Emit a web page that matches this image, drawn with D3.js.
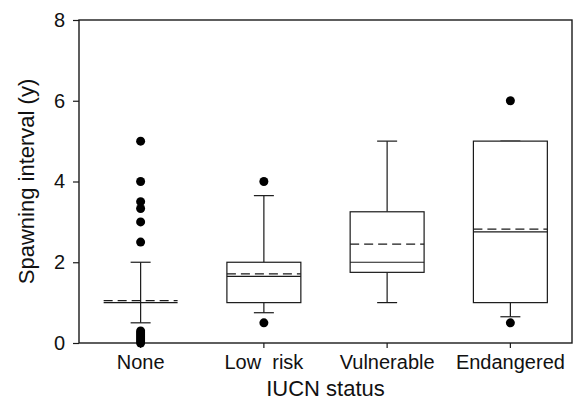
<!DOCTYPE html>
<html>
<head>
<meta charset="utf-8">
<script src="https://cdn.jsdelivr.net/npm/d3@7"></script>
<style>
  html, body { margin: 0; padding: 0; background: #fff; }
  text { font-family: "Liberation Sans", Arial, Helvetica, sans-serif; fill: #111; }
</style>
</head>
<body>
<svg id="chart" width="577" height="408"></svg>
<script>
// IUCN status groups
const categories = ["None", "Low  risk", "Vulnerable", "Endangered"];
// Box statistics for spawning interval (years)
const q1 = [1, 1, 1.75, 1];
const median = [1, 1.65, 2, 2.75];
const q3 = [1, 2, 3.25, 5];
const mean = [1.05, 1.71, 2.45, 2.82];
const whiskerLow = [0.5, 0.75, 1, 0.65];
const whiskerHigh = [2, 3.65, 5, 5];
const outliers = [
  [5, 4, 3.5, 3.33, 3, 2.5, 0.3, 0.25, 0.2, 0.15, 0.1, 0.05, 0],
  [4, 0.5],
  [],
  [6, 0.5]
];
const yTicks = [0, 2, 4, 6, 8];

const margin = { top: 20, right: 5, bottom: 65, left: 79 };
const W = 577, H = 408;
const svg = d3.select("#chart");

const x = d3.scaleBand().domain(categories).range([margin.left, W - margin.right]);
const y = d3.scaleLinear().domain([0, 8]).range([H - margin.bottom, margin.top]);

const stroke = "#1a1a1a";
const boxW = x.bandwidth() * 0.6;
const capW = 20;

// Axes
const yAxis = svg.append("g")
  .attr("transform", `translate(${margin.left},0)`)
  .call(d3.axisLeft(y).tickValues(yTicks).tickSize(6).tickPadding(8).tickFormat(d3.format("d")));
const xAxis = svg.append("g")
  .attr("transform", `translate(0,${H - margin.bottom})`)
  .call(d3.axisBottom(x).tickSize(5).tickPadding(7));
[yAxis, xAxis].forEach(g => {
  g.select(".domain").remove();
  g.selectAll("line").attr("stroke", stroke).attr("stroke-width", 1.2);
  g.selectAll("text").style("font-size", "20px").style("white-space", "pre")
    .attr("fill", "#111").style("font-family", '"Liberation Sans", Arial, sans-serif');
});

// Plot frame
svg.append("rect")
  .attr("x", margin.left).attr("y", margin.top)
  .attr("width", W - margin.left - margin.right)
  .attr("height", H - margin.top - margin.bottom)
  .attr("fill", "none").attr("stroke", stroke).attr("stroke-width", 1.4);

// Boxes
const groups = svg.append("g").selectAll("g")
  .data(categories.map((c, i) => ({ c, i })))
  .join("g");

groups.each(function ({ c, i }) {
  const g = d3.select(this);
  const cx = x(c) + x.bandwidth() / 2;
  const lw = 1.2;
  // whiskers
  g.append("line").attr("x1", cx).attr("x2", cx)
    .attr("y1", y(q3[i])).attr("y2", y(whiskerHigh[i]))
    .attr("stroke", stroke).attr("stroke-width", lw);
  g.append("line").attr("x1", cx).attr("x2", cx)
    .attr("y1", y(q1[i])).attr("y2", y(whiskerLow[i]))
    .attr("stroke", stroke).attr("stroke-width", lw);
  [whiskerHigh[i], whiskerLow[i]].forEach(v => {
    g.append("line").attr("x1", cx - capW / 2).attr("x2", cx + capW / 2)
      .attr("y1", y(v)).attr("y2", y(v))
      .attr("stroke", stroke).attr("stroke-width", lw);
  });
  // box
  g.append("rect").attr("x", cx - boxW / 2).attr("width", boxW)
    .attr("y", y(q3[i])).attr("height", y(q1[i]) - y(q3[i]))
    .attr("fill", "#fff").attr("stroke", stroke).attr("stroke-width", lw);
  // median
  g.append("line").attr("x1", cx - boxW / 2).attr("x2", cx + boxW / 2)
    .attr("y1", y(median[i])).attr("y2", y(median[i]))
    .attr("stroke", stroke).attr("stroke-width", lw);
  // mean (dashed)
  g.append("line").attr("x1", cx - boxW / 2).attr("x2", cx + boxW / 2)
    .attr("y1", y(mean[i])).attr("y2", y(mean[i]))
    .attr("stroke", stroke).attr("stroke-width", lw)
    .attr("stroke-dasharray", "9,5");
  // outliers
  g.selectAll("circle").data(outliers[i]).join("circle")
    .attr("cx", cx).attr("cy", d => y(d)).attr("r", 4.5)
    .attr("fill", "#000");
});

// Axis titles
svg.append("text")
  .attr("x", (margin.left + W - margin.right) / 2).attr("y", 396)
  .attr("text-anchor", "middle").style("font-size", "22px")
  .text("IUCN status");
svg.append("text")
  .attr("transform", `translate(34,${(margin.top + H - margin.bottom) / 2}) rotate(-90)`)
  .attr("text-anchor", "middle").style("font-size", "22px")
  .text("Spawning interval (y)");
</script>
</body>
</html>
